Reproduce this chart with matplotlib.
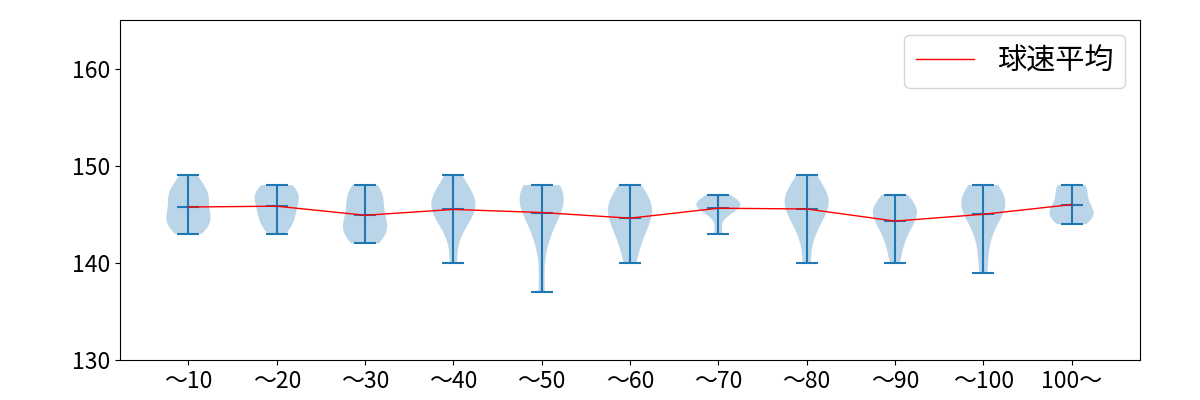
import numpy as np
import matplotlib
matplotlib.use("Agg")
import matplotlib.pyplot as plt

plt.rcParams['font.family'] = ['Noto Sans CJK JP', 'DejaVu Sans']

labels = ['～10', '～20', '～30', '～40', '～50', '～60', '～70', '～80', '～90', '～100', '100～']

# pitch speeds (km/h) per pitch-count bin
s10 = [143, 144, 144, 144, 145, 145, 146, 147, 147, 147, 148, 149]
s20 = [143, 144, 144, 145, 145, 146, 146, 147, 147, 147, 148, 148]
s30 = [142, 143, 143, 144, 144, 145, 146, 147, 147, 148]
s40 = [140, 143, 144, 145, 145, 146, 146, 146, 147, 147, 148, 149]
s50 = [137, 142, 144, 145, 146, 146, 147, 147, 147, 148, 148]
s60 = [140, 142, 143, 144, 145, 145, 146, 146, 147, 148]
s70 = [143, 145, 146, 146, 146, 146, 146, 147]
s80 = [140, 143, 144, 145, 146, 146, 146, 147, 147, 148, 149]
s90 = [140, 142, 143, 144, 145, 145, 145, 146, 146, 147]
s100 = [139, 142, 144, 145, 146, 146, 146, 147, 147, 148]
s100over = [144, 145, 145, 145, 146, 147, 148, 148]

data = [s10, s20, s30, s40, s50, s60, s70, s80, s90, s100, s100over]
pos = np.arange(1, len(data) + 1)
means = [np.mean(d) for d in data]

fig, ax = plt.subplots(figsize=(12, 4), dpi=100)
fig.subplots_adjust(left=0.1, right=0.95, bottom=0.1, top=0.95)

ax.violinplot(data, positions=pos, showmeans=True)
ax.plot(pos, means, color='red', linewidth=1, label='球速平均')

ax.set_ylim(130, 165)
ax.set_yticks([130, 140, 150, 160])
ax.set_xticks(pos)
ax.set_xticklabels(labels)
ax.tick_params(labelsize=16.5)
ax.legend(loc='upper right', fontsize=21)

fig.savefig('out.png')
